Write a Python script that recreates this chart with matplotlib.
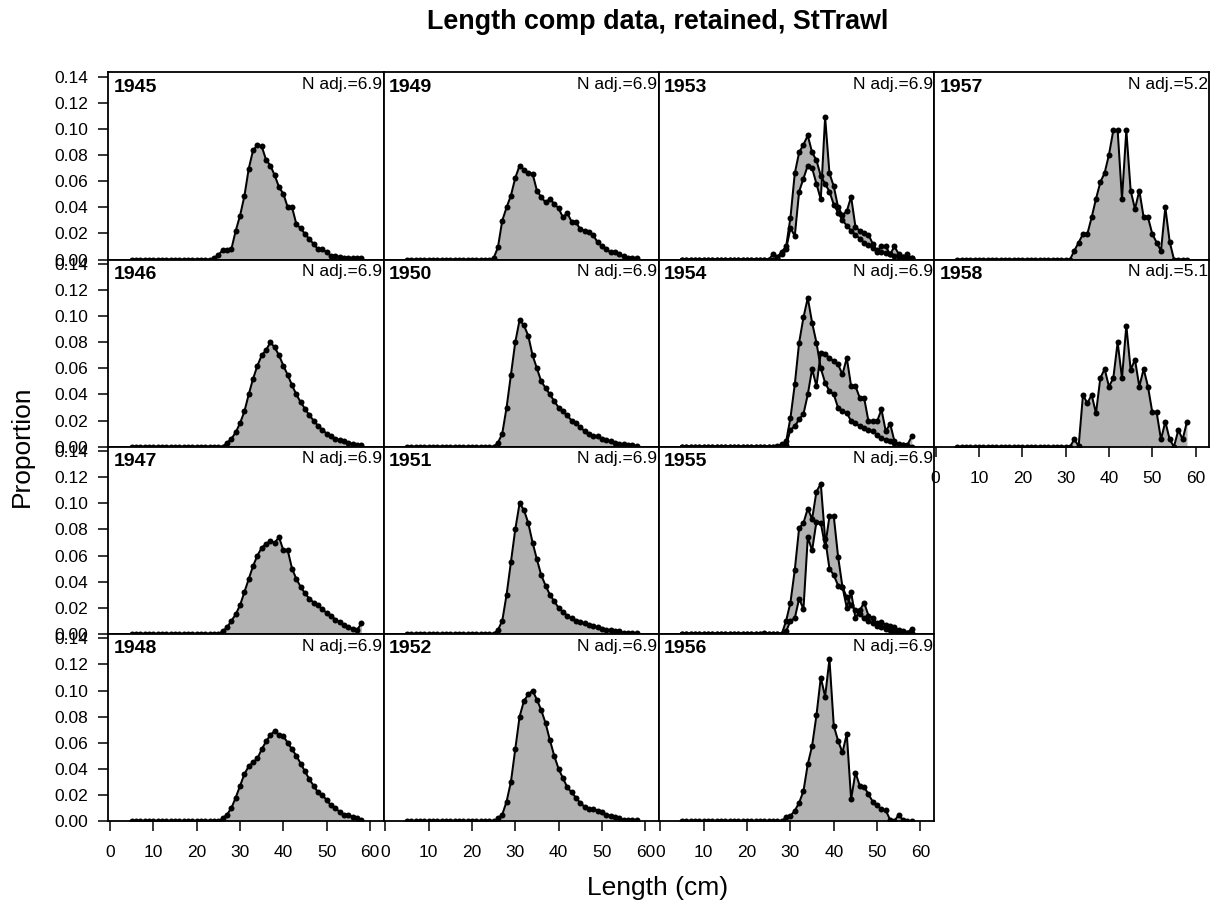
import matplotlib
matplotlib.use("Agg")
import matplotlib.pyplot as plt
import numpy as np

plt.rcParams["font.family"] = ["Liberation Sans", "DejaVu Sans"]

# Length bins (cm)
bins = list(range(5, 59))

# Observed proportions by length bin, 5..58 cm (rows of ten bins)
p1945 = [0, 0, 0, 0, 0, 0, 0, 0, 0, 0,
         0, 0, 0, 0, 0, 0, 0, 0, 0, 0.001,
         0.0035, 0.0072, 0.0075, 0.008, 0.022, 0.0336, 0.0485, 0.0695, 0.0836, 0.0875,
         0.0867, 0.0764, 0.072, 0.0644, 0.0554, 0.0503, 0.040, 0.040, 0.027, 0.0239,
         0.0195, 0.0157, 0.0118, 0.0079, 0.0079, 0.0054, 0.0028, 0.0025, 0.002, 0.0015,
         0.0015, 0.001, 0.0012, 0.001]
p1946 = [0, 0, 0, 0, 0, 0, 0, 0, 0, 0,
         0, 0, 0, 0, 0, 0, 0, 0, 0, 0,
         0, 0, 0.003, 0.006, 0.011, 0.018, 0.027, 0.04, 0.052, 0.062,
         0.07, 0.074, 0.08, 0.076, 0.07, 0.062, 0.055, 0.047, 0.04, 0.034,
         0.029, 0.024, 0.02, 0.016, 0.013, 0.01, 0.008, 0.006, 0.005, 0.004,
         0.003, 0.002, 0.0015, 0.001]
p1947 = [0, 0, 0, 0, 0, 0, 0, 0, 0, 0,
         0, 0, 0, 0, 0, 0, 0, 0, 0, 0,
         0, 0.002, 0.005, 0.01, 0.015, 0.022, 0.032, 0.042, 0.052, 0.06,
         0.066, 0.069, 0.071, 0.07, 0.074, 0.064, 0.064, 0.05, 0.042, 0.036,
         0.031, 0.027, 0.024, 0.022, 0.019, 0.016, 0.014, 0.011, 0.009, 0.007,
         0.005, 0.004, 0.003, 0.008]
p1948 = [0, 0, 0, 0, 0, 0, 0, 0, 0, 0,
         0, 0, 0, 0, 0, 0, 0, 0, 0, 0,
         0, 0.002, 0.005, 0.01, 0.018, 0.027, 0.036, 0.042, 0.045, 0.048,
         0.055, 0.061, 0.066, 0.069, 0.066, 0.065, 0.06, 0.055, 0.05, 0.044,
         0.038, 0.032, 0.027, 0.022, 0.02, 0.016, 0.012, 0.01, 0.007, 0.005,
         0.005, 0.003, 0.002, 0.001]
p1949 = [0, 0, 0, 0, 0, 0, 0, 0, 0, 0,
         0, 0, 0, 0, 0, 0, 0, 0, 0, 0,
         0.001, 0.0092, 0.0298, 0.0399, 0.049, 0.0624, 0.072, 0.0688, 0.0665, 0.0657,
         0.0528, 0.0477, 0.0438, 0.0464, 0.0426, 0.0393, 0.0323, 0.0357, 0.029, 0.0285,
         0.0233, 0.022, 0.0208, 0.0187, 0.0131, 0.0105, 0.0079, 0.0054, 0.0054, 0.004,
         0.0023, 0.0015, 0.001, 0.001]
p1950 = [0, 0, 0, 0, 0, 0, 0, 0, 0, 0,
         0, 0, 0, 0, 0, 0, 0, 0, 0, 0,
         0, 0.003, 0.01, 0.03, 0.055, 0.08, 0.097, 0.093, 0.085, 0.07,
         0.06, 0.05, 0.045, 0.04, 0.035, 0.03, 0.027, 0.024, 0.02, 0.018,
         0.015, 0.012, 0.01, 0.008, 0.008, 0.006, 0.005, 0.004, 0.003, 0.002,
         0.002, 0.001, 0.001, 0.0005]
p1951 = [0, 0, 0, 0, 0, 0, 0, 0, 0, 0,
         0, 0, 0, 0, 0, 0, 0, 0, 0, 0,
         0, 0.003, 0.01, 0.03, 0.055, 0.08, 0.1, 0.095, 0.085, 0.07,
         0.057, 0.045, 0.037, 0.03, 0.025, 0.02, 0.017, 0.014, 0.012, 0.01,
         0.009, 0.008, 0.007, 0.006, 0.005, 0.004, 0.003, 0.003, 0.002, 0.002,
         0.001, 0.001, 0.0005, 0.0005]
p1952 = [0, 0, 0, 0, 0, 0, 0, 0, 0, 0,
         0, 0, 0, 0, 0, 0, 0, 0, 0, 0,
         0, 0.002, 0.005, 0.015, 0.03, 0.055, 0.08, 0.092, 0.097, 0.1,
         0.093, 0.085, 0.075, 0.062, 0.05, 0.04, 0.033, 0.026, 0.022, 0.018,
         0.014, 0.011, 0.009, 0.009, 0.008, 0.007, 0.005, 0.004, 0.003, 0.002,
         0.001, 0.001, 0.0005, 0.0005]
p1953a = [0, 0, 0, 0, 0, 0, 0, 0, 0, 0,
          0, 0, 0, 0, 0, 0, 0, 0, 0, 0,
          0, 0.004, 0.002, 0.006, 0.01, 0.032, 0.066, 0.082, 0.088, 0.095,
          0.082, 0.076, 0.064, 0.058, 0.052, 0.042, 0.036, 0.030, 0.026, 0.022,
          0.019, 0.016, 0.013, 0.011, 0.009, 0.007, 0.006, 0.005, 0.004, 0.003,
          0.002, 0.002, 0.001, 0.001]
p1953b = [0, 0, 0, 0, 0, 0, 0, 0, 0, 0,
          0, 0, 0, 0, 0, 0, 0, 0, 0, 0,
          0, 0, 0.001, 0.004, 0.008, 0.024, 0.018, 0.052, 0.062, 0.072,
          0.070, 0.058, 0.046, 0.109, 0.066, 0.056, 0.040, 0.034, 0.037, 0.048,
          0.025, 0.022, 0.020, 0.019, 0.012, 0.006, 0.010, 0.010, 0.004, 0.010,
          0.004, 0.002, 0.004, 0.001]
p1954a = [0, 0, 0, 0, 0, 0, 0, 0, 0, 0,
          0, 0, 0, 0, 0, 0, 0, 0, 0, 0,
          0, 0, 0.0005, 0.002, 0.004, 0.022, 0.0477, 0.0797, 0.099, 0.114,
          0.095, 0.0797, 0.06, 0.049, 0.0426, 0.04, 0.0297, 0.027, 0.026, 0.0195,
          0.018, 0.0156, 0.014, 0.013, 0.0118, 0.009, 0.0067, 0.0054, 0.004, 0.0028,
          0.0015, 0.001, 0.0005, 0]
p1954b = [0, 0, 0, 0, 0, 0, 0, 0, 0, 0,
          0, 0, 0, 0, 0, 0, 0, 0, 0, 0,
          0, 0, 0, 0, 0.001, 0.013, 0.0156, 0.021, 0.025, 0.04,
          0.0595, 0.0464, 0.072, 0.0708, 0.068, 0.0656, 0.063, 0.0554, 0.068, 0.0464,
          0.0464, 0.0374, 0.0374, 0.0195, 0.0195, 0.0195, 0.0285, 0.0118, 0.0177, 0.0041,
          0.002, 0.0015, 0.0015, 0.008]
p1955a = [0, 0, 0, 0, 0, 0, 0, 0, 0, 0,
          0, 0, 0, 0, 0, 0, 0, 0, 0, 0,
          0, 0, 0, 0, 0.01, 0.024, 0.049, 0.081, 0.085, 0.096,
          0.088, 0.109, 0.115, 0.073, 0.05, 0.045, 0.037, 0.036, 0.02, 0.032,
          0.012, 0.018, 0.024, 0.014, 0.012, 0.008, 0.009, 0.007, 0.006, 0.005,
          0.003, 0.002, 0.001, 0.004]
p1955b = [0, 0, 0, 0, 0, 0, 0, 0, 0, 0,
          0, 0, 0, 0, 0, 0, 0, 0, 0, 0.001,
          0, 0, 0, 0, 0.002, 0.01, 0.012, 0.027, 0.019, 0.074,
          0.064, 0.086, 0.085, 0.067, 0.09, 0.09, 0.059, 0.036, 0.028, 0.022,
          0.018, 0.015, 0.012, 0.01, 0.008, 0.006, 0.005, 0.004, 0.003, 0.002,
          0.002, 0.001, 0.001, 0.001]
p1956 = [0, 0, 0, 0, 0, 0, 0, 0, 0, 0,
         0, 0, 0, 0, 0, 0, 0, 0, 0, 0,
         0, 0, 0, 0, 0.003, 0.004, 0.008, 0.014, 0.023, 0.0436,
         0.0577, 0.081, 0.110, 0.0954, 0.124, 0.073, 0.0615, 0.0526, 0.0667, 0.0167,
         0.0372, 0.027, 0.0264, 0.0205, 0.0149, 0.0123, 0.009, 0.0082, 0.001, 0,
         0.005, 0.0005, 0, 0]
p1957 = [0, 0, 0, 0, 0, 0, 0, 0, 0, 0,
         0, 0, 0, 0, 0, 0, 0, 0, 0, 0,
         0, 0, 0, 0, 0, 0, 0, 0.0067, 0.013, 0.0195,
         0.0195, 0.0323, 0.0464, 0.0592, 0.0664, 0.0803, 0.099, 0.099, 0.0464, 0.099,
         0.0528, 0.0387, 0.0528, 0.0323, 0.0323, 0.0195, 0.013, 0.0067, 0.040, 0.0136,
         0, 0, 0, 0]
p1958 = [0, 0, 0, 0, 0, 0, 0, 0, 0, 0,
         0, 0, 0, 0, 0, 0, 0, 0, 0, 0,
         0, 0, 0, 0, 0, 0, 0, 0.0056, 0.0005, 0.0397,
         0.0333, 0.0397, 0.0256, 0.0526, 0.0595, 0.046, 0.0526, 0.080, 0.0526, 0.0928,
         0.059, 0.0667, 0.046, 0.0595, 0.046, 0.0262, 0.0262, 0.0056, 0.0192, 0.0056,
         0, 0.0128, 0.0056, 0.0192]

n_adj = {1945: "6.9", 1946: "6.9", 1947: "6.9", 1948: "6.9",
         1949: "6.9", 1950: "6.9", 1951: "6.9", 1952: "6.9",
         1953: "6.9", 1954: "6.9", 1955: "6.9", 1956: "6.9",
         1957: "5.2", 1958: "5.1"}

# (year, column, row, series...)
panels = [
    (1945, 0, 0, [p1945]), (1946, 0, 1, [p1946]), (1947, 0, 2, [p1947]), (1948, 0, 3, [p1948]),
    (1949, 1, 0, [p1949]), (1950, 1, 1, [p1950]), (1951, 1, 2, [p1951]), (1952, 1, 3, [p1952]),
    (1953, 2, 0, [p1953a, p1953b]), (1954, 2, 1, [p1954a, p1954b]),
    (1955, 2, 2, [p1955a, p1955b]), (1956, 2, 3, [p1956]),
    (1957, 3, 0, [p1957]), (1958, 3, 1, [p1958]),
]
bottom_row = {0: 3, 1: 3, 2: 3, 3: 1}

W, H = 1214, 909
fig = plt.figure(figsize=(W / 100, H / 100), dpi=100)

left0, top0 = 108.3, 72.3
pw, ph = 275.2, 187.2
fill_col = "#B3B3B3"

for year, col, row, series in panels:
    x0 = left0 + col * pw
    y0 = top0 + row * ph
    ax = fig.add_axes([x0 / W, 1 - (y0 + ph) / H, pw / W, ph / H])
    ax.set_xlim(-0.4, 63.1)
    ax.set_ylim(0, 0.1434)
    x = np.array(bins)
    if len(series) == 1:
        ax.fill_between(x, 0, series[0], color=fill_col, lw=0)
    else:
        ax.fill_between(x, series[0], series[1], color=fill_col, lw=0)
    for s in series:
        ax.plot(x, s, "-o", color="black", lw=1.45, ms=4.3, mew=0)
    for sp in ax.spines.values():
        sp.set_linewidth(1.3)
        sp.set_color("black")
    ax.tick_params(direction="out", length=7.5, width=1.1, labelsize=12.5,
                   colors="black")
    if col == 0:
        ax.set_yticks(np.arange(0, 0.141, 0.02))
        ax.set_yticklabels([f"{v:.2f}" for v in np.arange(0, 0.141, 0.02)])
        ax.tick_params(axis="y", pad=7)
    else:
        ax.set_yticks([])
    if row == bottom_row[col]:
        ax.set_xticks(range(0, 61, 10))
        ax.tick_params(axis="x", pad=10)
    else:
        ax.set_xticks([])
    ax.text(0.02, 0.965, str(year), transform=ax.transAxes, ha="left", va="top",
            fontsize=14, fontweight="bold")
    ax.text(0.995, 0.975, f"N adj.={n_adj[year]}", transform=ax.transAxes,
            ha="right", va="top", fontsize=12.5)

fig.text(658 / W, 1 - 22 / H, "Length comp data, retained, StTrawl",
         ha="center", va="center", fontsize=19.4, fontweight="bold")
fig.text(658 / W, 1 - 888 / H, "Length (cm)", ha="center", va="center", fontsize=19)
fig.text(22 / W, 1 - 446 / H, "Proportion", ha="center", va="center",
         fontsize=19, rotation=90)

fig.savefig("out.png", dpi=100)
